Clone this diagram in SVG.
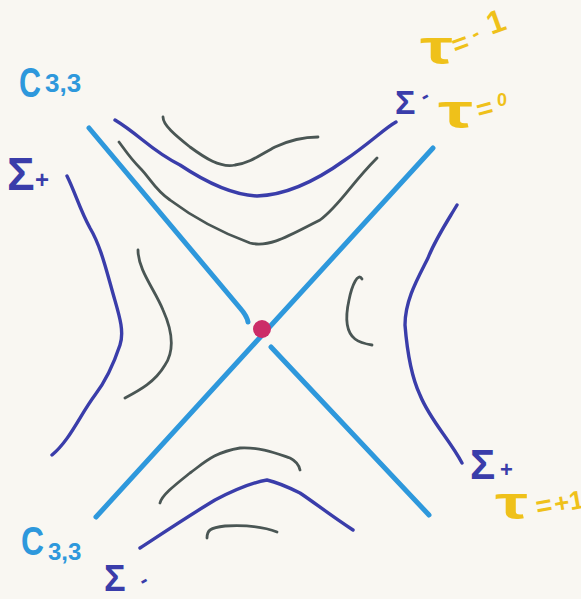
<svg xmlns="http://www.w3.org/2000/svg" width="581" height="599" viewBox="0 0 581 599">
<style>
.cone{fill:none;stroke:#2e98dc;stroke-width:5;stroke-linecap:round;stroke-linejoin:round}
.sig{fill:none;stroke:#3a3daa;stroke-width:3.4;stroke-linecap:round;stroke-linejoin:round}
.lvl{fill:none;stroke:#4a5654;stroke-width:2.8;stroke-linecap:round;stroke-linejoin:round}
.lb{font-family:"Liberation Sans","DejaVu Sans",sans-serif;font-weight:bold}
.blue{fill:#2e98dc}
.dark{fill:#3a3daa}
.yel{fill:#efc11a}
</style>
<rect width="581" height="599" fill="#f9f7f2"/>
<g id="cone">
<path class="cone" d="M89,128 L240,308 Q247,316 248,322"/>
<path class="cone" d="M271,347 L429,515"/>
<path class="cone" d="M433,148 L96,517"/>
</g>
<g id="origin"><circle cx="262" cy="329" r="9" fill="#cc2d68"/></g>
<g id="sigma-curves">
<path class="sig" d="M115,120 C140,135 150,150 180,165 C210,185 235,195 257,196 C290,195 320,178 345,160 C370,143 385,128 396,122"/>
<path class="sig" d="M67,176 C75,192 80,210 90,228 C100,245 105,265 112,290 C118,312 125,330 120,345 C115,360 108,378 95,395 C80,415 70,440 52,455"/>
<path class="sig" d="M457,205 C445,225 435,240 428,258 C418,278 405,300 405,325 C407,350 412,378 420,395 C430,420 450,440 462,463"/>
<path class="sig" d="M140,548 C160,535 190,515 215,500 C240,487 255,482 267,480 C280,483 290,488 300,493 C315,503 330,515 353,530"/>
</g>
<g id="level-curves">
<path class="lvl" d="M163,117 C163,125 175,135 190,147 C205,158 220,168 235,165 C250,163 260,155 275,147 C290,140 305,137 318,137"/>
<path class="lvl" d="M119,142 C125,150 130,158 140,168 C150,178 155,190 170,200 C190,215 220,232 250,243 C270,248 290,235 320,220 C340,205 350,185 377,158"/>
<path class="lvl" d="M138,250 C138,270 155,290 163,310 C172,330 175,350 165,365 C155,382 140,390 125,398"/>
<path class="lvl" d="M362,279 C358,272 352,285 349,300 C345,318 346,332 355,339 C360,343 366,344 372,345"/>
<path class="lvl" d="M160,503 C162,495 175,485 190,473 C205,462 215,452 240,448 C260,447 275,453 290,458 C296,461 299,465 300,470"/>
<path class="lvl" d="M207,538 C207,530 210,528 225,526 C245,525 265,527 277,532"/>
</g>
<g id="labels">
<text class="lb blue" x="19" y="97" font-size="42" textLength="22" lengthAdjust="spacingAndGlyphs">C</text>
<text class="lb blue" x="45" y="92" font-size="26">3,3</text>
<text class="lb blue" x="21" y="555" font-size="40" textLength="23" lengthAdjust="spacingAndGlyphs">C</text>
<text class="lb blue" x="48" y="560" font-size="24">3,3</text>
<text class="lb dark" x="7" y="190" font-size="46">Σ</text>
<text class="lb dark" x="35" y="188" font-size="24">+</text>
<text class="lb dark" x="470" y="479" font-size="42">Σ</text>
<text class="lb dark" x="500" y="477" font-size="22">+</text>
<text class="lb dark" x="395" y="114" font-size="34">Σ</text>
<text class="lb dark" x="421" y="101" font-size="22" transform="rotate(-30 428 95)">-</text>
<text class="lb dark" x="104" y="591" font-size="36">Σ</text>
<text class="lb dark" x="139" y="586" font-size="22" transform="rotate(-30 145 578)">-</text>
<text class="lb yel" x="420" y="64" font-size="48" textLength="33" lengthAdjust="spacingAndGlyphs">τ</text>
<text class="lb yel" x="453" y="53" font-size="28" transform="rotate(-20 460 46)">=</text>
<text class="lb yel" x="473" y="40" font-size="22" transform="rotate(-30 477 36)">-</text>
<text class="lb yel" x="487" y="33" font-size="32" transform="rotate(-20 495 22)">1</text>
<text class="lb yel" x="438" y="128" font-size="48" textLength="35" lengthAdjust="spacingAndGlyphs">τ</text>
<text class="lb yel" x="477" y="118" font-size="28" transform="rotate(-15 485 110)">=</text>
<text class="lb yel" x="497" y="106" font-size="18">0</text>
<text class="lb yel" x="495" y="519" font-size="46" textLength="33" lengthAdjust="spacingAndGlyphs">τ</text>
<text class="lb yel" x="536" y="515" font-size="28" transform="rotate(-10 544 507)">=</text>
<text class="lb yel" x="554" y="512" font-size="26" transform="rotate(-10 560 502)">+1</text>
</g>
</svg>
